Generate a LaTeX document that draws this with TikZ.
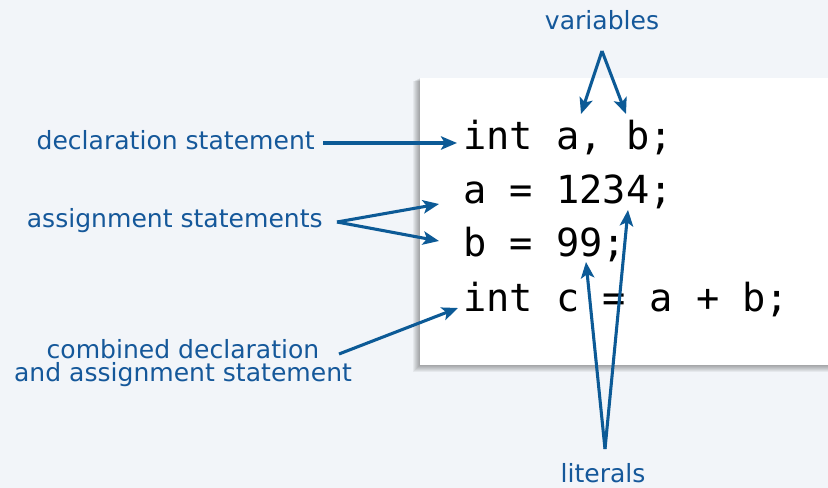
\documentclass[tikz,border=0pt]{standalone}
\usepackage{fontspec}
\setmainfont{DejaVu Sans}
\newfontfamily\codefont{DejaVu Sans Mono}
\usetikzlibrary{arrows.meta}
\definecolor{bgcol}{HTML}{F2F5F9}
\definecolor{arrcol}{HTML}{0C5A96}
\definecolor{labcol}{HTML}{15589A}
\tikzset{
  lab/.style={text=labcol,font=\fontsize{18.8}{18.8}\selectfont,inner sep=0pt},
  codeline/.style={font=\codefont\fontsize{29}{29}\selectfont,inner sep=0pt,anchor=base west},
  pointer/.style={draw=arrcol,line width=2.3pt,-{Stealth[length=12pt,width=10pt,inset=2.8pt]}},
}
\begin{document}
\begin{tikzpicture}[x=0.75pt,y=-0.75pt]
\useasboundingbox[fill=bgcol] (0,0) rectangle (828,488);
% shadow of the code box
\foreach \i in {1,...,7}{
  \fill[black,opacity=0.05] (420-\i,78+0.5*\i) rectangle (828,365+\i);
}
\fill[white] (420,78) rectangle (828,365);
% code lines
\node[codeline] (l1) at (463,150) {int a, b;};
\node[codeline] (l2) at (463,204) {a = 1234;};
\node[codeline] (l3) at (463,257) {b = 99;};
\node[codeline] (l4) at (463,311) {int c = a + b;};
% labels
\node[lab,anchor=base east] (decl) at (315,150) {declaration statement};
\node[lab,anchor=base east] (assign) at (323,228) {assignment statements};
\node[lab,anchor=base] (comb1) at (183,358) {combined declaration};
\node[lab,anchor=base] (comb2) at (183,381) {and assignment statement};
\node[lab,anchor=base] (vars) at (602,30) {variables};
\node[lab,anchor=base] (lits) at (603,482) {literals};
% arrow anchor points
\coordinate (declS) at (323,143);
\coordinate (declT) at (457,143);
\coordinate (asgS) at (337,222);
\coordinate (asgT1) at (439,204);
\coordinate (asgT2) at (439,241);
\coordinate (combS) at (339,354);
\coordinate (combT) at (458,308);
\coordinate (varS) at (602,51);
\coordinate (varT1) at (581,114);
\coordinate (varT2) at (626,114);
\coordinate (litS) at (605,449);
\coordinate (litT1) at (586,262);
\coordinate (litT2) at (628,210);
% arrows
\draw[pointer] (declS) -- (declT);
\draw[pointer] (asgS) -- (asgT1);
\draw[pointer] (asgS) -- (asgT2);
\draw[pointer] (combS) -- (combT);
\draw[pointer] (varS) -- (varT1);
\draw[pointer] (varS) -- (varT2);
\draw[pointer] (litS) -- (litT1);
\draw[pointer] (litS) -- (litT2);
\end{tikzpicture}
\end{document}
